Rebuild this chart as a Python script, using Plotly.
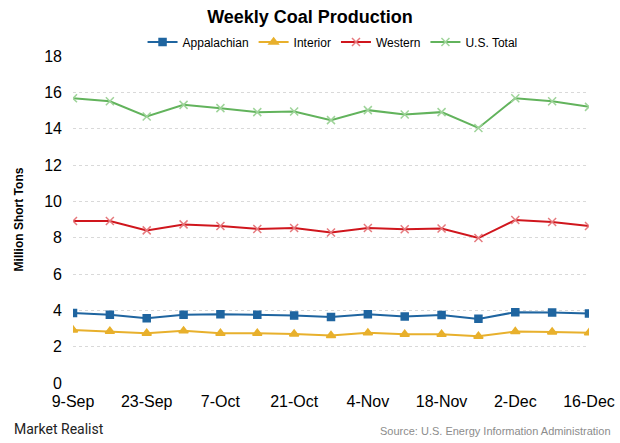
import plotly.graph_objects as go

weeks = ["9-Sep", "16-Sep", "23-Sep", "30-Sep", "7-Oct", "14-Oct", "21-Oct", "28-Oct",
         "4-Nov", "11-Nov", "18-Nov", "25-Nov", "2-Dec", "9-Dec", "16-Dec"]
tick_labels = ["9-Sep", "23-Sep", "7-Oct", "21-Oct", "4-Nov", "18-Nov", "2-Dec", "16-Dec"]

appalachian = [3.85, 3.76, 3.57, 3.76, 3.79, 3.76, 3.72, 3.63, 3.79, 3.66, 3.74, 3.53, 3.90, 3.88, 3.83]
interior = [2.92, 2.85, 2.74, 2.87, 2.74, 2.74, 2.70, 2.61, 2.76, 2.68, 2.68, 2.57, 2.83, 2.81, 2.77]
western = [8.92, 8.92, 8.40, 8.73, 8.64, 8.48, 8.53, 8.28, 8.53, 8.46, 8.50, 7.98, 8.97, 8.86, 8.64]
us_total = [15.67, 15.51, 14.67, 15.31, 15.13, 14.91, 14.95, 14.47, 15.02, 14.78, 14.91, 14.04, 15.67, 15.51, 15.20]

series = [
    ("Appalachian", appalachian, "#1f65a0", "square", 7, "#1f65a0"),
    ("Interior", interior, "#e8b02c", "triangle-up", 8, "#e8b02c"),
    ("Western", western, "#d0161d", "x-thin", 8, "#e67a7e"),
    ("U.S. Total", us_total, "#62b35c", "x-thin", 8, "#9fd49a"),
]

fig = go.Figure()
for name, vals, color, sym, size, mcol in series:
    fig.add_trace(go.Scatter(
        x=weeks, y=vals, name=name, mode="lines+markers",
        line=dict(color=color, width=2),
        marker=dict(symbol=sym, size=size, color=mcol,
                    line=dict(color=mcol, width=1.5)),
    ))

fig.update_layout(
    width=620, height=443,
    margin=dict(l=73, r=31, t=56, b=60, autoexpand=False),
    paper_bgcolor="white", plot_bgcolor="white",
    font=dict(family="Liberation Sans, Arial, sans-serif", color="#000000"),
    title=dict(text="<b>Weekly Coal Production</b>", x=0.5, xanchor="center",
               y=1 - 17 / 443, yanchor="middle", font=dict(size=18, color="#000000")),
    legend=dict(orientation="h", x=0.503, xanchor="center", y=1.043, yanchor="middle",
                font=dict(size=12, color="#000000"), bgcolor="rgba(0,0,0,0)",
                itemwidth=30, tracegroupgap=0),
    showlegend=True,
)
fig.update_xaxes(
    type="category", range=[0, 14], tickmode="array",
    tickvals=tick_labels, ticktext=tick_labels,
    tickfont=dict(size=16, color="#000000"),
    showgrid=False, showline=False, zeroline=False, ticks="", ticklabelstandoff=7,
)
fig.update_yaxes(
    range=[0, 18], dtick=2, tickfont=dict(size=16, color="#000000"),
    showgrid=True, gridcolor="#d9d9d9", griddash="dot", gridwidth=1,
    zeroline=False, showline=False, ticks="", ticklabelstandoff=10,
    title=dict(text="<b>Million Short Tons</b>", font=dict(size=12, color="#000000"), standoff=18),
)

fig.add_annotation(text="Market Realist", xref="paper", yref="paper",
                   x=-0.118, y=-0.1405, xanchor="left", yanchor="middle", showarrow=False,
                   font=dict(family="Roboto, Liberation Sans, sans-serif", size=14, color="#222222"))
fig.add_annotation(text="Source: U.S. Energy Information Administration", xref="paper", yref="paper",
                   x=1.0465, y=-0.147, xanchor="right", yanchor="middle", showarrow=False,
                   font=dict(size=11, color="#8c8c8c"))

fig.write_html("out.html", config={"displayModeBar": False},
               post_script="document.body.style.margin='0px';document.body.style.padding='0px';")
